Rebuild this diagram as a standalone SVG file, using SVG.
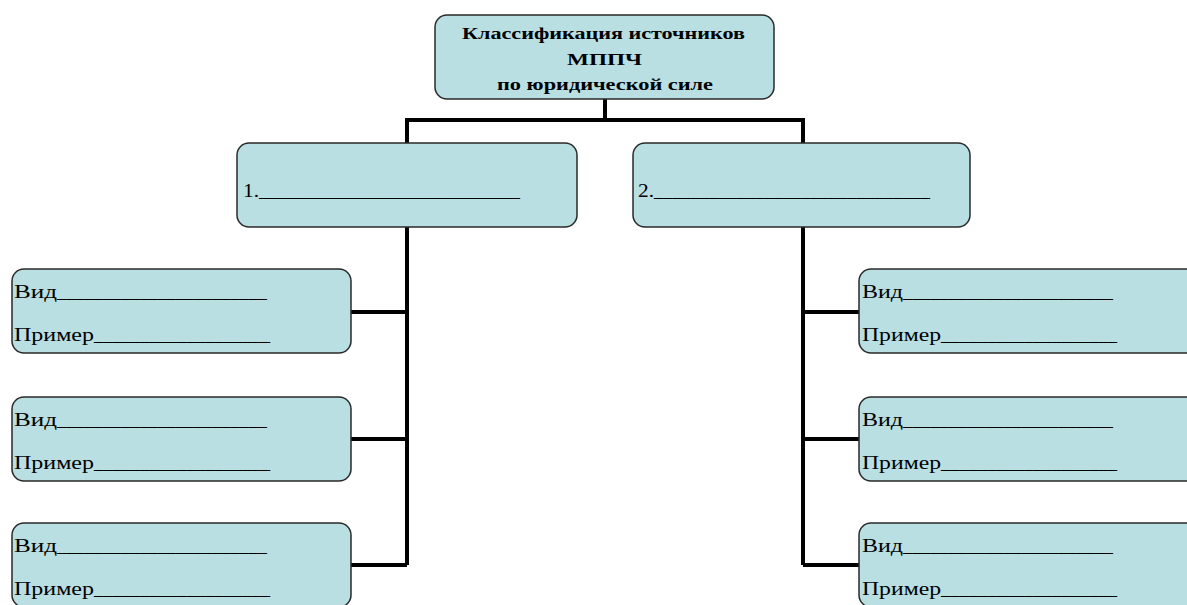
<svg xmlns="http://www.w3.org/2000/svg" width="1187" height="605" viewBox="0 0 1187 605">
<style>
.box{fill:#b9dfe3;stroke:#2a2a2a;stroke-width:1.5}
.t{font-family:'Liberation Serif','DejaVu Serif','Times New Roman',serif;font-size:18px;fill:#000}
.h{font-family:'Liberation Serif','DejaVu Serif','Times New Roman',serif;font-size:17px;font-weight:bold;fill:#000}
.c{fill:none;stroke:#000;stroke-width:4;stroke-linejoin:miter}
</style>
<rect width="1187" height="605" fill="#fff"/>
<g id="connectors">
<path class="c" d="M605 99V120M407 143V120H803V143"/>
<path class="c" d="M407 227V565M351 312H407M351 439H407M351 565H407"/>
<path class="c" d="M803 227V565M859 312H803M859 439H803M859 565H803"/>
</g>
<g id="root">
<rect class="box" x="435" y="15" width="339" height="84" rx="12"/>
<text class="h" x="462" y="39" textLength="283" lengthAdjust="spacingAndGlyphs">Классификация источников</text>
<text class="h" x="567" y="65" textLength="75" lengthAdjust="spacingAndGlyphs">МППЧ</text>
<text class="h" x="497" y="90" textLength="216" lengthAdjust="spacingAndGlyphs">по юридической силе</text>
</g>
<g id="n1">
<rect class="box" x="237" y="143" width="340" height="84" rx="12"/>
<text class="t" x="243" y="197" textLength="16" lengthAdjust="spacingAndGlyphs">1.</text>
<text class="t" x="259" y="197" textLength="261" lengthAdjust="spacingAndGlyphs">_____________________________</text>
</g>
<g id="n2">
<rect class="box" x="633" y="143" width="337" height="84" rx="12"/>
<text class="t" x="638" y="197" textLength="16" lengthAdjust="spacingAndGlyphs">2.</text>
<text class="t" x="654" y="197" textLength="276" lengthAdjust="spacingAndGlyphs">______________________________</text>
</g>
<g id="l1">
<rect class="box" x="12" y="269" width="339" height="84" rx="12"/>
<text class="t" x="14" y="298" textLength="43" lengthAdjust="spacingAndGlyphs">Вид</text>
<text class="t" x="57" y="298" textLength="210" lengthAdjust="spacingAndGlyphs">_______________________</text>
<text class="t" x="14" y="341" textLength="80" lengthAdjust="spacingAndGlyphs">Пример</text>
<text class="t" x="94" y="341" textLength="176" lengthAdjust="spacingAndGlyphs">___________________</text>
</g>
<g id="l2">
<rect class="box" x="12" y="397" width="339" height="84" rx="12"/>
<text class="t" x="14" y="426" textLength="43" lengthAdjust="spacingAndGlyphs">Вид</text>
<text class="t" x="57" y="426" textLength="210" lengthAdjust="spacingAndGlyphs">_______________________</text>
<text class="t" x="14" y="469" textLength="80" lengthAdjust="spacingAndGlyphs">Пример</text>
<text class="t" x="94" y="469" textLength="176" lengthAdjust="spacingAndGlyphs">___________________</text>
</g>
<g id="l3">
<rect class="box" x="12" y="523" width="339" height="84" rx="12"/>
<text class="t" x="14" y="552" textLength="43" lengthAdjust="spacingAndGlyphs">Вид</text>
<text class="t" x="57" y="552" textLength="210" lengthAdjust="spacingAndGlyphs">_______________________</text>
<text class="t" x="14" y="595" textLength="80" lengthAdjust="spacingAndGlyphs">Пример</text>
<text class="t" x="94" y="595" textLength="176" lengthAdjust="spacingAndGlyphs">___________________</text>
</g>
<g id="r1">
<rect class="box" x="859" y="269" width="340" height="84" rx="12"/>
<text class="t" x="862" y="298" textLength="41" lengthAdjust="spacingAndGlyphs">Вид</text>
<text class="t" x="903" y="298" textLength="210" lengthAdjust="spacingAndGlyphs">_______________________</text>
<text class="t" x="862" y="341" textLength="79" lengthAdjust="spacingAndGlyphs">Пример</text>
<text class="t" x="941" y="341" textLength="176" lengthAdjust="spacingAndGlyphs">___________________</text>
</g>
<g id="r2">
<rect class="box" x="859" y="397" width="340" height="84" rx="12"/>
<text class="t" x="862" y="426" textLength="41" lengthAdjust="spacingAndGlyphs">Вид</text>
<text class="t" x="903" y="426" textLength="210" lengthAdjust="spacingAndGlyphs">_______________________</text>
<text class="t" x="862" y="469" textLength="79" lengthAdjust="spacingAndGlyphs">Пример</text>
<text class="t" x="941" y="469" textLength="176" lengthAdjust="spacingAndGlyphs">___________________</text>
</g>
<g id="r3">
<rect class="box" x="859" y="523" width="340" height="84" rx="12"/>
<text class="t" x="862" y="552" textLength="41" lengthAdjust="spacingAndGlyphs">Вид</text>
<text class="t" x="903" y="552" textLength="210" lengthAdjust="spacingAndGlyphs">_______________________</text>
<text class="t" x="862" y="595" textLength="79" lengthAdjust="spacingAndGlyphs">Пример</text>
<text class="t" x="941" y="595" textLength="176" lengthAdjust="spacingAndGlyphs">___________________</text>
</g>
</svg>
